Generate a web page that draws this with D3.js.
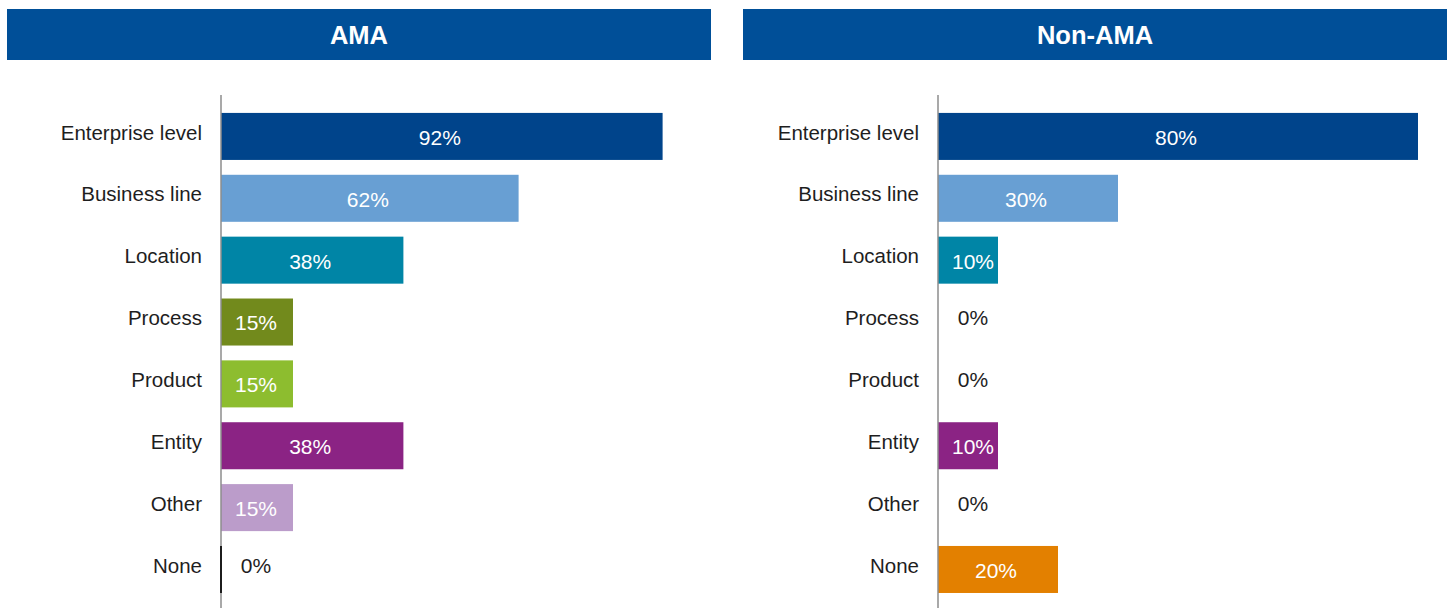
<!DOCTYPE html>
<html>
<head>
<meta charset="utf-8">
<script src="https://cdn.jsdelivr.net/npm/d3@7"></script>
<style>
  html, body { margin: 0; padding: 0; background: #fff; }
  svg { display: block; }
  text { font-family: "Liberation Sans", Arial, sans-serif; }
</style>
</head>
<body>
<svg id="chart" width="1450" height="608"></svg>
<script>
// Categories shared by both panels (top to bottom)
const categories = ["Enterprise level", "Business line", "Location", "Process", "Product", "Entity", "Other", "None"];

// Share of respondents (%) per category
const amaValues    = [92, 62, 38, 15, 15, 38, 15, 0];
const nonAmaValues = [80, 30, 10, 0, 0, 10, 0, 20];

// Bar colours per category
const amaColors    = ["#00448b", "#689fd3", "#0085a6", "#728a1c", "#8dbd2f", "#8b2384", "#bb9cca", "#1c1c1c"];
const nonAmaColors = ["#00448b", "#689fd3", "#0085a6", "#728a1c", "#8dbd2f", "#8b2384", "#bb9cca", "#e38000"];

// Panel titles
const panelTitles = ["AMA", "Non-AMA"];

const panels = [
  { title: panelTitles[0], values: amaValues, colors: amaColors, domainMax: 100,
    headerX: 7, headerW: 704, axisX: 221, markZero: true },
  { title: panelTitles[1], values: nonAmaValues, colors: nonAmaColors, domainMax: 80,
    headerX: 743, headerW: 704, axisX: 938, markZero: false }
];

const svg = d3.select("#chart");

const y = d3.scaleBand()
  .domain(categories)
  .range([105.5, 600.4])
  .paddingInner(0.24)
  .paddingOuter(0.12);

panels.forEach(p => {
  const g = svg.append("g");

  // Header band
  g.append("rect")
    .attr("x", p.headerX).attr("y", 9)
    .attr("width", p.headerW).attr("height", 51)
    .attr("fill", "#004f98");
  g.append("text")
    .attr("x", p.headerX + p.headerW / 2).attr("y", 34.5)
    .attr("dy", "0.36em")
    .attr("text-anchor", "middle")
    .attr("fill", "#fff")
    .attr("font-size", 25.5)
    .attr("font-weight", "bold")
    .text(p.title);

  const x = d3.scaleLinear()
    .domain([0, p.domainMax])
    .range([p.axisX, p.axisX + 480]);

  const rows = categories.map((c, i) => ({ cat: c, value: p.values[i], color: p.colors[i] }));

  // Bars
  g.selectAll("rect.bar")
    .data(rows)
    .join("rect")
    .attr("class", "bar")
    .attr("x", x(0))
    .attr("y", d => y(d.cat))
    .attr("width", d => x(d.value) - x(0))
    .attr("height", y.bandwidth())
    .attr("fill", d => d.color);

  // Vertical axis line
  g.append("line")
    .attr("x1", x(0)).attr("x2", x(0))
    .attr("y1", 95).attr("y2", 608)
    .attr("stroke", "#8c8c8c")
    .attr("stroke-width", 1.5);

  // Zero-value bar marker drawn over the axis
  g.selectAll("line.zero")
    .data(rows.filter(d => p.markZero && d.value === 0))
    .join("line")
    .attr("class", "zero")
    .attr("x1", x(0)).attr("x2", x(0))
    .attr("y1", d => y(d.cat)).attr("y2", d => y(d.cat) + y.bandwidth())
    .attr("stroke", d => d.color)
    .attr("stroke-width", 2);

  // Category labels
  g.selectAll("text.cat")
    .data(rows)
    .join("text")
    .attr("class", "cat")
    .attr("x", x(0) - 19)
    .attr("y", d => y(d.cat) + y.bandwidth() / 2 - 4)
    .attr("dy", "0.35em")
    .attr("text-anchor", "end")
    .attr("fill", "#1e1e1e")
    .attr("font-size", 20.5)
    .text(d => d.cat);

  // Value labels
  g.selectAll("text.val")
    .data(rows)
    .join("text")
    .attr("class", "val")
    .attr("x", d => Math.max(x(0) + 35, (x(0) + x(d.value)) / 2 - 2))
    .attr("y", d => y(d.cat) + y.bandwidth() / 2 + (d.value === 0 ? -4 : 1))
    .attr("dy", "0.35em")
    .attr("text-anchor", "middle")
    .attr("fill", d => d.value === 0 ? "#1e1e1e" : "#ffffff")
    .attr("font-size", 21)
    .text(d => d.value + "%");
});
</script>
</body>
</html>
